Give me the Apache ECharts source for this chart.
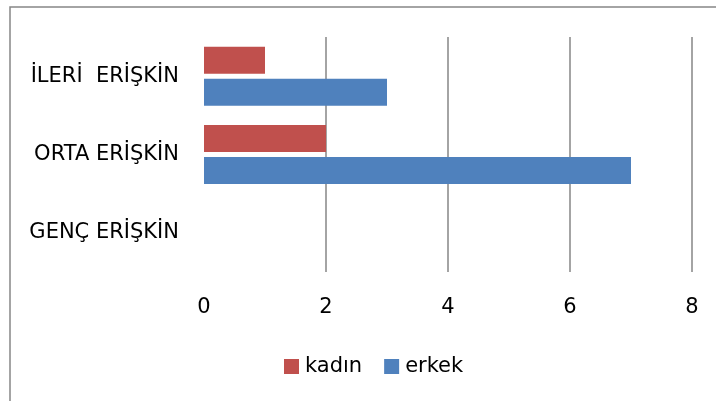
<!DOCTYPE html>
<html>
<head>
<meta charset="utf-8">
<script src="https://cdn.jsdelivr.net/npm/echarts@6/dist/echarts.min.js"></script>
<style>html,body{margin:0;padding:0;background:#fff}#c{width:716px;height:401px}</style>
</head>
<body>
<div id="c"></div>
<script>
const categories = ['GENÇ ERİŞKİN', 'ORTA ERİŞKİN', 'İLERİ  ERİŞKİN'];
const kadin = [0, 2, 1];
const erkek = [0, 7, 3];
const xTicks = { min: 0, max: 8, interval: 2 };

const FONT = "'DejaVu Sans', sans-serif";
const chart = echarts.init(document.getElementById('c'), null, { renderer: 'canvas' });
chart.setOption({
  animation: false,
  backgroundColor: '#fff',
  graphic: [{
    type: 'rect', shape: { x: 10, y: 7, width: 720, height: 410 },
    style: { fill: 'none', stroke: '#868686', lineWidth: 1.5 }, silent: true
  }],
  grid: { left: 204, right: 24, top: 37, bottom: 129, containLabel: false },
  legend: {
    data: ['kadın', 'erkek'], left: 284, top: 356, icon: 'rect', padding: 0,
    itemWidth: 15, itemHeight: 15, itemGap: 22,
    textStyle: { fontFamily: FONT, fontSize: 21, color: '#000', padding: [0, 0, 0, 1] }
  },
  xAxis: {
    type: 'value', min: xTicks.min, max: xTicks.max, interval: xTicks.interval,
    axisLine: { show: false }, axisTick: { show: false },
    axisLabel: { fontFamily: FONT, fontSize: 21, color: '#000', margin: 25 },
    splitLine: { show: true, showMinLine: false, lineStyle: { color: '#868686', width: 1.5 } }
  },
  yAxis: {
    type: 'category', data: categories,
    axisLine: { show: false }, axisTick: { show: false },
    axisLabel: { fontFamily: FONT, fontSize: 21, color: '#000', margin: 25 },
    splitLine: { show: false }
  },
  series: [
    { name: 'kadın', type: 'bar', data: kadin, barWidth: 27, barGap: '18.5%', itemStyle: { color: '#C0504D' } },
    { name: 'erkek', type: 'bar', data: erkek, barWidth: 27, barGap: '18.5%', itemStyle: { color: '#4F81BD' } }
  ]
});
</script>
</body>
</html>
